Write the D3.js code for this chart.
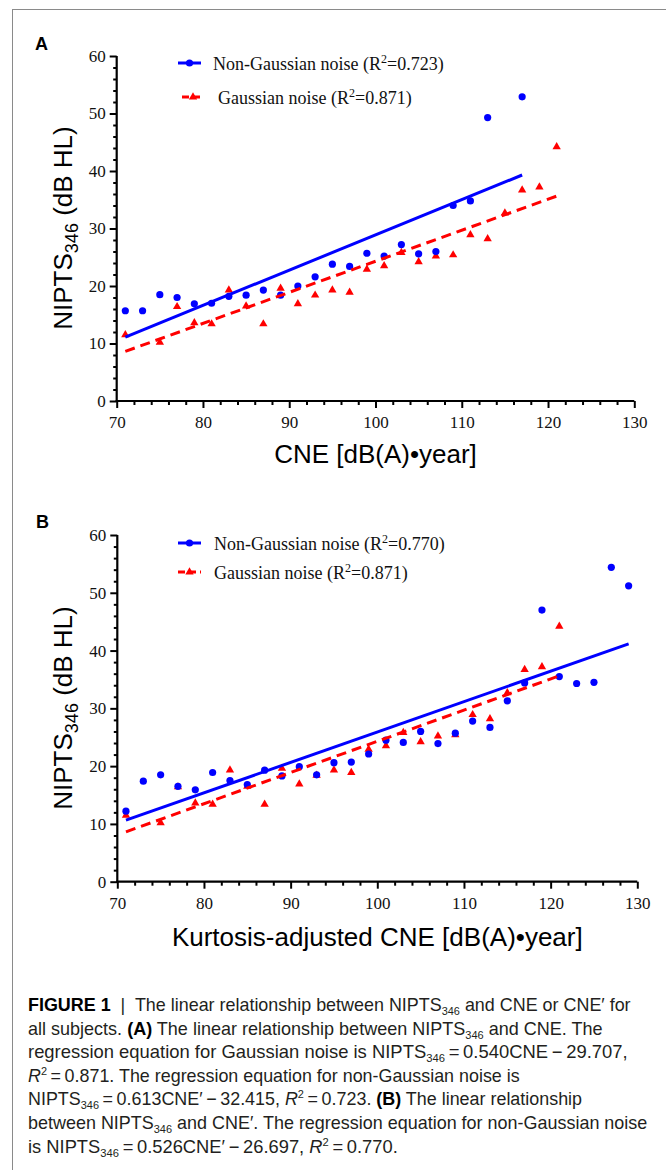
<!DOCTYPE html>
<html>
<head>
<meta charset="utf-8">
<script src="https://cdn.jsdelivr.net/npm/d3@7"></script>
<style>
  html, body { margin: 0; padding: 0; background: #fff; }
  svg { display: block; }
</style>
</head>
<body>
<svg id="fig" width="666" height="1170"></svg>
<script>
// ---------------- DATA ----------------
// Panel A: x = CNE, y = NIPTS346
const nonGaussA_x = [71,73,75,77,79,81,83,85,87,89,91,93,95,97,99,101,103,105,107,109,111,113,117];
const nonGaussA_y = [15.7,15.7,18.5,18.0,16.9,17.0,18.2,18.4,19.3,18.4,20.0,21.6,23.8,23.4,25.7,25.2,27.2,25.6,26.0,34.0,34.8,49.3,52.9];

// Gaussian noise (same in both panels)
const gauss_x = [71,75,77,79,81,83,85,87,89,91,93,95,97,99,101,103,105,107,109,111,113,115,117,119,121];
const gauss_y = [11.5,10.2,16.4,13.6,13.4,19.3,16.5,13.4,19.6,16.9,18.4,19.3,18.9,22.9,23.5,25.8,24.2,25.2,25.4,28.9,28.2,32.7,36.7,37.2,44.2];

// Panel B: x = kurtosis-adjusted CNE
const nonGaussB_x = [71,73,75,77,79,81,83,85,87,89,91,93,95,97,99,101,103,105,107,109,111,113,115,117,119,121,123,125,127,129];
const nonGaussB_y = [12.2,17.4,18.5,16.5,15.9,18.9,17.5,16.8,19.3,18.3,19.9,18.5,20.6,20.7,22.1,24.5,24.1,26.0,23.9,25.7,27.8,26.7,31.3,34.4,47.0,35.5,34.3,34.5,54.4,51.2];

// Regression fits: [slope, intercept], x extent
const fitGauss = [0.540, -29.707];   const fitGaussRange = [71, 121];
const fitNonGaussA = [0.613, -32.415]; const fitNonGaussARange = [71, 117];
const fitNonGaussB = [0.526, -26.697]; const fitNonGaussBRange = [71, 129];

// Axis ticks
const xTicks = [70,80,90,100,110,120,130];
const yTicks = [0,10,20,30,40,50,60];
const xMinor = [72,74,76,78,82,84,86,88,92,94,96,98,102,104,106,108,112,114,116,118,122,124,126,128];
const yMinor = [2,4,6,8,12,14,16,18,22,24,26,28,32,34,36,38,42,44,46,48,52,54,56,58];

// Legend labels
const legendA = ["0.723", "0.871"];
const legendB = ["0.770", "0.871"];

// ---------------- DRAW ----------------
const svg = d3.select("#fig");
const BLUE = "#0000ff", RED = "#ff0000";
const SERIF = "'Liberation Serif','Times New Roman',serif";
const SANS = "'Liberation Sans',Arial,Helvetica,sans-serif";

// border frame
svg.append("rect").attr("x", 12.5).attr("y", 9.5).attr("width", 700).attr("height", 1200)
  .attr("fill", "none").attr("stroke", "#8a8a8a").attr("stroke-width", 1);

function panel(opt) {
  const x = d3.scaleLinear().domain([70,130]).range([opt.x0, opt.x1]);
  const y = d3.scaleLinear().domain([0,60]).range([opt.yb, opt.yt]);
  const g = svg.append("g");

  // panel letter
  g.append("text").attr("x", opt.letterX).attr("y", opt.letterY)
    .attr("font-family", SANS).attr("font-weight", "bold").attr("font-size", 18)
    .text(opt.letter);

  // minor ticks
  g.append("g").attr("transform", `translate(${opt.x0},0)`)
    .call(d3.axisLeft(y).tickValues(yMinor).tickSize(3.5).tickFormat("").tickSizeOuter(0))
    .call(s => s.select(".domain").remove())
    .call(s => s.selectAll("line").attr("stroke", "#000").attr("stroke-width", 2));
  g.append("g").attr("transform", `translate(0,${opt.yb})`)
    .call(d3.axisBottom(x).tickValues(xMinor).tickSize(4).tickFormat("").tickSizeOuter(0))
    .call(s => s.select(".domain").remove())
    .call(s => s.selectAll("line").attr("stroke", "#000").attr("stroke-width", 2));

  // major axes
  const ya = g.append("g").attr("transform", `translate(${opt.x0},0)`)
    .call(d3.axisLeft(y).tickValues(yTicks).tickSize(7).tickPadding(4).tickSizeOuter(0).tickFormat(d3.format("d")));
  const xa = g.append("g").attr("transform", `translate(0,${opt.yb})`)
    .call(d3.axisBottom(x).tickValues(xTicks).tickSize(7).tickPadding(8).tickSizeOuter(0).tickFormat(d3.format("d")));
  [ya, xa].forEach(a => {
    a.select(".domain").attr("stroke", "#000").attr("stroke-width", 2.2);
    a.selectAll(".tick line").attr("stroke", "#000").attr("stroke-width", 2);
    a.selectAll(".tick text").attr("font-family", SERIF).attr("font-size", 17).attr("fill", "#111");
  });
  // extend domain lines to meet at the corner
  ya.select(".domain").attr("d", `M0,${y(60)}V${opt.yb + 1.1}`);
  xa.select(".domain").attr("d", `M${opt.x0 - 1.1},0H${opt.x1}`);

  // Y axis title
  const yt = g.append("text")
    .attr("transform", `translate(${opt.yTitleX},${opt.yTitleY}) rotate(-90)`)
    .attr("text-anchor", "middle").attr("font-family", SANS).attr("font-size", 26).attr("fill", "#000");
  yt.append("tspan").text("NIPTS");
  yt.append("tspan").attr("font-size", 18).attr("dy", 6).text("346");
  yt.append("tspan").attr("dy", -6).text(" (dB HL)");

  // X axis title
  g.append("text").attr("x", (opt.x0 + opt.x1) / 2).attr("y", opt.xTitleY)
    .attr("text-anchor", "middle").attr("font-family", SANS).attr("font-size", 26).attr("fill", "#000")
    .text(opt.xTitle);

  // points: gaussian triangles
  const tri = d3.symbol().type(d3.symbolTriangle).size(30);
  g.append("g").selectAll("path").data(gauss_x.map((d, i) => [d, gauss_y[i]])).join("path")
    .attr("d", tri).attr("fill", RED)
    .attr("transform", d => `translate(${x(d[0])},${y(d[1])})`);
  // non-gaussian circles
  g.append("g").selectAll("circle").data(opt.nx.map((d, i) => [d, opt.ny[i]])).join("circle")
    .attr("cx", d => x(d[0])).attr("cy", d => y(d[1])).attr("r", 3.6).attr("fill", BLUE);

  // regression lines
  const line = d3.line().x(d => x(d)).y(d => y(fitGauss[0] * d + fitGauss[1]));
  g.append("path").datum(fitGaussRange).attr("d", line)
    .attr("fill", "none").attr("stroke", RED).attr("stroke-width", 3).attr("stroke-dasharray", "10,6");
  const line2 = d3.line().x(d => x(d)).y(d => y(opt.fit[0] * d + opt.fit[1]));
  g.append("path").datum(opt.fitRange).attr("d", line2)
    .attr("fill", "none").attr("stroke", BLUE).attr("stroke-width", 3);

  // legend
  const L = opt.legend;
  // blue entry
  g.append("line").attr("x1", L.lx0).attr("x2", L.lx1).attr("y1", L.y1).attr("y2", L.y1)
    .attr("stroke", BLUE).attr("stroke-width", 3);
  g.append("circle").attr("cx", (L.lx0 + L.lx1) / 2).attr("cy", L.y1).attr("r", 3.6).attr("fill", BLUE);
  const t1 = g.append("text").attr("x", L.tx1).attr("y", L.y1 + 7).attr("font-family", SERIF).attr("font-size", 18).attr("fill", "#111");
  t1.append("tspan").text("Non-Gaussian noise (R");
  t1.append("tspan").attr("font-size", 12).attr("dy", -7).text("2");
  t1.append("tspan").attr("dy", 7).text("=" + opt.r2[0] + ")");
  // red entry
  g.append("line").attr("x1", L.rx0).attr("x2", L.rx1).attr("y1", L.y2).attr("y2", L.y2)
    .attr("stroke", RED).attr("stroke-width", 3).attr("stroke-dasharray", "7,4");
  g.append("path").attr("d", tri).attr("fill", RED)
    .attr("transform", `translate(${(L.rx0 + L.rx1) / 2},${L.y2})`);
  const t2 = g.append("text").attr("x", L.tx2).attr("y", L.y2 + 7).attr("font-family", SERIF).attr("font-size", 18).attr("fill", "#111");
  t2.append("tspan").text("Gaussian noise (R");
  t2.append("tspan").attr("font-size", 12).attr("dy", -7).text("2");
  t2.append("tspan").attr("dy", 7).text("=" + opt.r2[1] + ")");
}

panel({
  letter: "A", letterX: 35, letterY: 50,
  x0: 116.7, x1: 634.3, yb: 401, yt: 56,
  nx: nonGaussA_x, ny: nonGaussA_y, fit: fitNonGaussA, fitRange: fitNonGaussARange,
  yTitleX: 72, yTitleY: 228, xTitleY: 463, xTitle: "CNE [dB(A)\u2022year]",
  legend: { lx0: 178, lx1: 201, y1: 63, tx1: 213, rx0: 182, rx1: 204, y2: 97, tx2: 218 },
  r2: legendA
});
panel({
  letter: "B", letterX: 36, letterY: 528,
  x0: 117.3, x1: 637.3, yb: 881.7, yt: 535,
  nx: nonGaussB_x, ny: nonGaussB_y, fit: fitNonGaussB, fitRange: fitNonGaussBRange,
  yTitleX: 72, yTitleY: 708, xTitleY: 946, xTitle: "Kurtosis-adjusted CNE [dB(A)\u2022year]",
  legend: { lx0: 178, lx1: 201, y1: 543, tx1: 214, rx0: 178, rx1: 201, y2: 572, tx2: 214 },
  r2: legendB
});

// ---------------- CAPTION ----------------
const capX = 28, capY0 = 1011, capDY = 23.6;
const capTargets = [603, 575, 600, 492, 554, 620, 370];
// each line: array of [text, style] where style: n=normal, b=bold, s=subscript, i=italic, p=superscript
const SUB = ["346", "s"];
const capLines = [
  [["FIGURE 1", "b"], ["  |  The linear relationship between NIPTS", "n"], SUB, [" and CNE or CNE\u2032 for", "n"]],
  [["all subjects. ", "n"], ["(A)", "b"], [" The linear relationship between NIPTS", "n"], SUB, [" and CNE. The", "n"]],
  [["regression equation for Gaussian noise is NIPTS", "n"], SUB, ["\u2009=\u20090.540CNE\u2009\u2212\u200929.707,", "n"]],
  [["R", "i"], ["2", "p"], ["\u2009=\u20090.871. The regression equation for non-Gaussian noise is", "n"]],
  [["NIPTS", "n"], SUB, ["\u2009=\u20090.613CNE\u2032\u2009\u2212\u200932.415, ", "n"], ["R", "i"], ["2", "p"], ["\u2009=\u20090.723. ", "n"], ["(B)", "b"], [" The linear relationship", "n"]],
  [["between NIPTS", "n"], SUB, [" and CNE\u2032. The regression equation for non-Gaussian noise", "n"]],
  [["is NIPTS", "n"], SUB, ["\u2009=\u20090.526CNE\u2032\u2009\u2212\u200926.697, ", "n"], ["R", "i"], ["2", "p"], ["\u2009=\u20090.770.", "n"]]
];
capLines.forEach((parts, li) => {
  const y0 = capY0 + li * capDY;
  const t = svg.append("text").attr("x", 0).attr("y", 0)
    .attr("font-family", SANS).attr("font-size", 18).attr("fill", "#231f20")
    .attr("xml:space", "preserve").style("white-space", "pre");
  let shift = 0;
  parts.forEach(([txt, st]) => {
    const ts = t.append("tspan").text(txt);
    let target = 0;
    if (st === "b") ts.attr("font-weight", "bold").attr("fill", "#000");
    if (st === "i") ts.attr("font-style", "italic");
    if (st === "s") { ts.attr("font-size", 11); target = 4; }
    if (st === "p") { ts.attr("font-size", 11); target = -7; }
    ts.attr("dy", target - shift);
    shift = target;
  });
  const w = t.node().getComputedTextLength();
  const s = capTargets[li] / w;
  t.attr("transform", `translate(${capX},${y0}) scale(${s},1)`);
});
</script>
</body>
</html>
